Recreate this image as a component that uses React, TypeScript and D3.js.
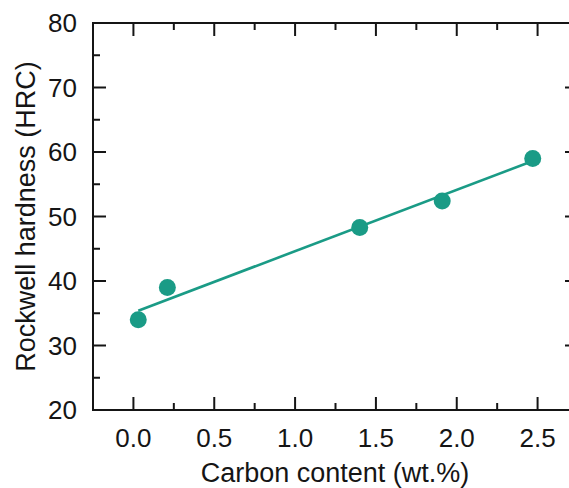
import React from 'react';
import * as d3 from 'd3';

const width = 569;
const height = 488;
const margin = {top: 23, right: -9, bottom: 78, left: 93};
const teal = '#1a9b86';
const ink = '#151515';
const font = 'Liberation Sans, Arial, sans-serif';

// measured hardness vs carbon content
const carbon = [0.03, 0.21, 1.4, 1.91, 2.47];
const hardness = [34, 39, 48.3, 52.4, 59];
// linear fit end points
const fitCarbon = [0.03, 2.47];
const fitHardness = [35.4, 58.6];

const xTicks = [0, 0.5, 1, 1.5, 2, 2.5];
const xMinor = [-0.25, 0.25, 0.75, 1.25, 1.75, 2.25, 2.75];
const yTicks = [20, 30, 40, 50, 60, 70, 80];
const yMinor = [25, 35, 45, 55, 65, 75];

const xScale = d3.scaleLinear().domain([-0.25, 2.75]).range([margin.left, width - margin.right]);
const yScale = d3.scaleLinear().domain([20, 80]).range([height - margin.bottom, margin.top]);

const line = d3.line<number>()
  .x(d => xScale(d))
  .y((d, i) => yScale(fitHardness[i]));

const major = 13;
const minor = 7;

export default function App() {
  const x0 = xScale.range()[0];
  const x1 = xScale.range()[1];
  const y0 = yScale.range()[0];
  const y1 = yScale.range()[1];
  return (
    <svg width={width} height={height}
      style={{position: 'fixed', left: 0, top: 0, background: '#fff'}}>
      <g stroke={ink} strokeWidth={2}>
        <rect x={x0} y={y1} width={x1 - x0} height={y0 - y1} fill="none" />
        {xTicks.map(t => (
          <g key={'x' + t}>
            <line x1={xScale(t)} x2={xScale(t)} y1={y0} y2={y0 - major} />
            <line x1={xScale(t)} x2={xScale(t)} y1={y1} y2={y1 + major} />
          </g>
        ))}
        {xMinor.map(t => (
          <g key={'xm' + t}>
            <line x1={xScale(t)} x2={xScale(t)} y1={y0} y2={y0 - minor} />
            <line x1={xScale(t)} x2={xScale(t)} y1={y1} y2={y1 + minor} />
          </g>
        ))}
        {yTicks.map(t => (
          <g key={'y' + t}>
            <line x1={x0} x2={x0 + major} y1={yScale(t)} y2={yScale(t)} />
            <line x1={x1} x2={x1 - major} y1={yScale(t)} y2={yScale(t)} />
          </g>
        ))}
        {yMinor.map(t => (
          <g key={'ym' + t}>
            <line x1={x0} x2={x0 + minor} y1={yScale(t)} y2={yScale(t)} />
            <line x1={x1} x2={x1 - minor} y1={yScale(t)} y2={yScale(t)} />
          </g>
        ))}
      </g>

      <g fontFamily={font} fontSize={26} fill={ink}>
        {xTicks.map(t => (
          <text key={'xl' + t} x={xScale(t)} y={y0 + 37} textAnchor="middle">{t.toFixed(1)}</text>
        ))}
        {yTicks.map(t => (
          <text key={'yl' + t} x={x0 - 16} y={yScale(t)} dy="0.36em" textAnchor="end">{t}</text>
        ))}
        <text x={335} y={482} fontSize={27} textAnchor="middle">Carbon content (wt.%)</text>
        <text transform={`translate(35, ${(y0 + y1) / 2}) rotate(-90)`} fontSize={27} textAnchor="middle">
          Rockwell hardness (HRC)
        </text>
      </g>

      <path d={line(fitCarbon) || ''} fill="none" stroke={teal} strokeWidth={2.6} />
      {carbon.map((c, i) => (
        <circle key={i} cx={xScale(c)} cy={yScale(hardness[i])} r={8.5} fill={teal} />
      ))}
    </svg>
  );
}
